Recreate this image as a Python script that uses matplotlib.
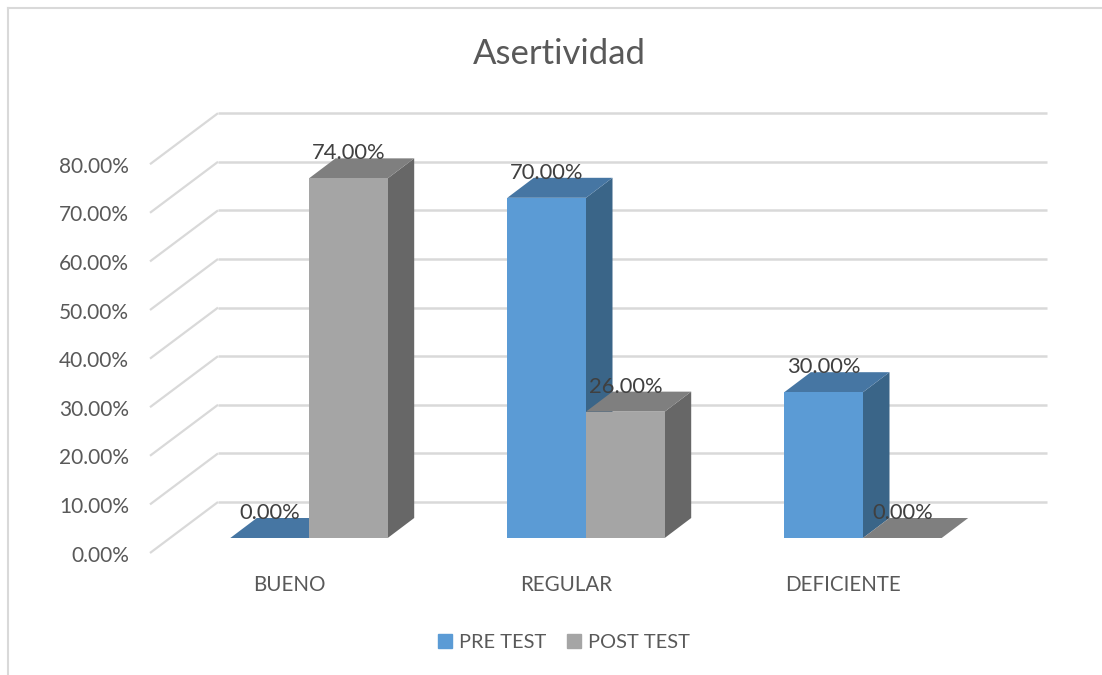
import matplotlib
matplotlib.use("Agg")
import matplotlib.pyplot as plt
from matplotlib.patches import Patch, Polygon, Rectangle

CATEGORIES = ["BUENO", "REGULAR", "DEFICIENTE"]
PRE_TEST = [0, 70, 30]
POST_TEST = [74, 26, 0]
SERIES_NAMES = ["PRE TEST", "POST TEST"]
Y_TICKS = [0, 10, 20, 30, 40, 50, 60, 70, 80]
TITLE = "Asertividad"

WIDTH, HEIGHT = 1102, 675
PX_X = 277.0  # pixels per category
PX_Y = 4.86  # pixels per percent
ORIGIN_X, ORIGIN_Y = 309.0, 538.0  # where category 0 / value 0 sit on the bars' front plane


def dx(px):
    return px / PX_X


def dy(px):
    return px / PX_Y


BAR_W = dx(78.7)
DEPTH_X, DEPTH_Y = dx(26.5), dy(20)

BLUE = ("#5B9BD5", "#4676A3", "#3A6588")
GRAY = ("#A5A5A5", "#7F7F7F", "#676767")
GRID = "#D9D9D9"
TEXT = "#595959"
LABEL = "#404040"

plt.rcParams["font.family"] = ["Lato", "DejaVu Sans"]

fig = plt.figure(figsize=(WIDTH / 100, HEIGHT / 100), dpi=100)
ax = fig.add_axes([0, 0, 1, 1])
ax.set_xlim(-ORIGIN_X / PX_X, (WIDTH - ORIGIN_X) / PX_X)
ax.set_ylim((ORIGIN_Y - HEIGHT) / PX_Y, ORIGIN_Y / PX_Y)
ax.axis("off")

# back wall and floor lines
wall_l, wall_r, front_l = dx(218 - ORIGIN_X), dx(1047 - ORIGIN_X), dx(150 - ORIGIN_X)
wall_up, front_down = dy(36), dy(-15)
for v in Y_TICKS:
    ax.plot([wall_l, wall_r], [v + wall_up, v + wall_up], color=GRID, lw=1.8, zorder=1,
            solid_capstyle="butt")
    ax.plot([front_l, wall_l], [v + front_down, v + wall_up], color=GRID, lw=1.6, zorder=1,
            solid_capstyle="butt")
    ax.text(dx(129 - ORIGIN_X), v + front_down - dy(2.5), f"{v:.2f}%", ha="right", va="center",
            fontsize=15, color=TEXT)


def draw_bar(x0, value, cols, z):
    x1 = x0 + BAR_W
    ax.add_patch(Polygon([(x1, 0), (x1 + DEPTH_X, DEPTH_Y), (x1 + DEPTH_X, value + DEPTH_Y), (x1, value)],
                         facecolor=cols[2], edgecolor="none", zorder=z))
    ax.add_patch(Polygon([(x0, value), (x1, value), (x1 + DEPTH_X, value + DEPTH_Y), (x0 + DEPTH_X, value + DEPTH_Y)],
                         facecolor=cols[1], edgecolor="none", zorder=z))
    ax.add_patch(Rectangle((x0, 0), BAR_W, value, facecolor=cols[0], edgecolor="none", zorder=z))


for i, cat in enumerate(CATEGORIES):
    draw_bar(i - BAR_W, PRE_TEST[i], BLUE, 3)
    draw_bar(i, POST_TEST[i], GRAY, 4)
    for x0, val in ((i - BAR_W, PRE_TEST[i]), (i, POST_TEST[i])):
        ax.annotate(f"{val:.2f}%", (x0 + BAR_W / 2, val), xytext=(0, 18), textcoords="offset points",
                    ha="center", va="center", fontsize=15.8, color=LABEL, zorder=6)
    ax.text(i - dx(20), dy(538 - 585), cat, ha="center", va="center", fontsize=14.8, color=TEXT)

fig.text(559 / WIDTH, 1 - 54 / HEIGHT, TITLE, ha="center", va="center", fontsize=25, color=TEXT)

ax.legend(handles=[Patch(color=BLUE[0], label=SERIES_NAMES[0]), Patch(color=GRAY[0], label=SERIES_NAMES[1])],
          loc="center", bbox_to_anchor=(564 / WIDTH, 1 - 642 / HEIGHT), bbox_transform=fig.transFigure,
          ncol=2, frameon=False, fontsize=14.4, labelcolor=TEXT, handlelength=0.7, handleheight=0.7,
          handletextpad=0.35, columnspacing=1.05)

# chart frame, only the top and left edges are in the crop
fig.add_artist(plt.Line2D([8 / WIDTH, 8 / WIDTH], [1 - 8 / HEIGHT, 0], color=GRID, lw=1.5))
fig.add_artist(plt.Line2D([8 / WIDTH, 1], [1 - 8 / HEIGHT, 1 - 8 / HEIGHT], color=GRID, lw=1.5))

fig.savefig("out.png", dpi=100)
